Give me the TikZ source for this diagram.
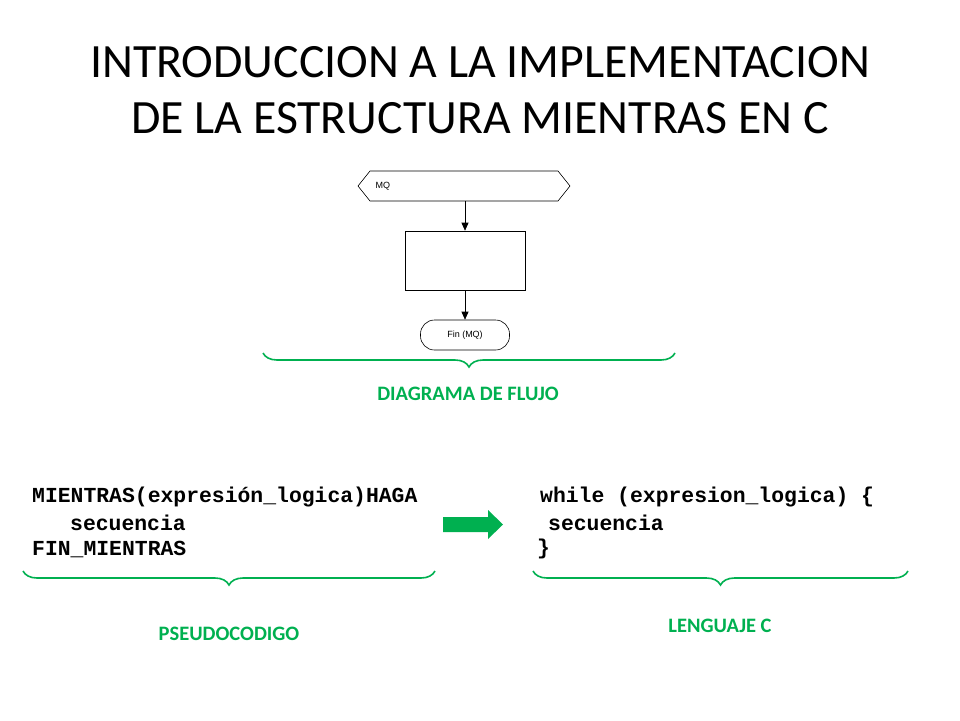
\documentclass[tikz,border=0pt]{standalone}
\usepackage{fontspec}
\setmainfont{Carlito}
\setmonofont{Liberation Mono}
\newfontfamily\arialfont{Liberation Sans}
\usetikzlibrary{decorations.pathreplacing,shapes.symbols,arrows.meta}
\definecolor{slidegreen}{RGB}{0,176,80}

\begin{document}
\begin{tikzpicture}[x=1pt,y=-1pt,
  greenbrace/.style={decorate, decoration={brace, amplitude=14pt, mirror}, slidegreen, line width=1.6pt},
  greenlabel/.style={slidegreen, font=\bfseries\fontsize{20.5}{24}\selectfont},
  codeline/.style={anchor=west, inner sep=0pt, font=\ttfamily\bfseries\fontsize{21.4}{24}\selectfont},
  flow/.style={draw, line width=0.6pt, font=\arialfont\fontsize{9}{11}\selectfont},
  flowarrow/.style={-{Triangle[length=8pt,width=7pt]}, line width=0.6pt}]

  \useasboundingbox (0,0) rectangle (960,720);

  % Title
  \node (title1) at (480,62) {\fontsize{47.8}{56}\selectfont INTRODUCCION A LA IMPLEMENTACION};
  \node (title2) at (480,118) {\fontsize{47.8}{56}\selectfont DE LA ESTRUCTURA MIENTRAS EN C};

  % Flow diagram
  \draw[line width=0.6pt] (358,186) -- (370,171) -- (558,171) -- (570,186) -- (558,201) -- (370,201) -- cycle;
  \node[flow, draw=none, anchor=west] (mq) at (372,186) {MQ};
  \node[flow, minimum width=120pt, minimum height=59pt] (body) at (465,260.5) {};
  \node[flow, rounded corners=14pt, minimum width=89pt, minimum height=30pt] (fin) at (465,335) {Fin (MQ)};
  \coordinate (mqbottom) at (465,201);
  \draw[flowarrow] (mqbottom) -- (body.north);
  \draw[flowarrow] (body.south) -- (fin.north);

  \draw[greenbrace] (263,353) -- (675,353);
  \node[greenlabel] (diag) at (468,394) {DIAGRAMA DE FLUJO};

  % Pseudocode
  \node[codeline] (ps1) at (32,497) {MIENTRAS(expresión\_logica)HAGA};
  \node[codeline] (ps2) at (70,523) {secuencia};
  \node[codeline] (ps3) at (32,549) {FIN\_MIENTRAS};
  \draw[greenbrace] (23,571) -- (435,571);
  \node[greenlabel] (pseudo) at (229,634) {PSEUDOCODIGO};

  % Green arrow
  \fill[slidegreen] (443,517) -- (488,517) -- (488,510) -- (503,524.5) -- (488,539) -- (488,532) -- (443,532) -- cycle;

  % C code
  \node[codeline] (c1) at (540,497) {while (expresion\_logica) \{};
  \node[codeline] (c2) at (548,523) {secuencia};
  \node[codeline] (c3) at (537,549) {\}};
  \draw[greenbrace] (533,571) -- (908,571);
  \node[greenlabel] (lang) at (720,626) {LENGUAJE C};

\end{tikzpicture}
\end{document}
